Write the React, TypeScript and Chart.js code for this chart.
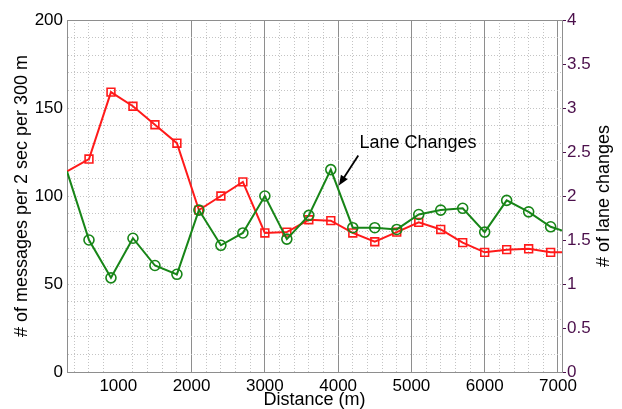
import React, { useEffect, useRef } from 'react';
import { Chart, registerables } from 'chart.js';

Chart.register(...registerables);

// ---- data ----
const distances = [300, 600, 900, 1200, 1500, 1800, 2100, 2400, 2700, 3000, 3300, 3600, 3900, 4200, 4500, 4800, 5100, 5400, 5700, 6000, 6300, 6600, 6900, 7200];
const messages = [114, 121, 159, 151, 140.5, 130, 92, 100, 108, 79, 79.5, 86.5, 86, 79, 74, 79.5, 85, 81, 73.5, 68, 69.5, 70, 68, 68];
const laneChanges = [2.28, 1.5, 1.07, 1.52, 1.21, 1.11, 1.84, 1.44, 1.58, 2.0, 1.51, 1.78, 2.3, 1.64, 1.64, 1.62, 1.79, 1.84, 1.86, 1.59, 1.95, 1.82, 1.65, 1.57];
const xTickLabels = [1000, 2000, 3000, 4000, 5000, 6000, 7000];
const xMajorLines = [2000, 3000, 4000, 5000, 6000, 7000];
const leftTickLabels = [0, 50, 100, 150, 200];
const rightTickLabels = [0, 0.5, 1, 1.5, 2, 2.5, 3, 3.5, 4];

const X_MIN = 300;
const X_MAX = 7055;
const X_GRID_STEP = 200;

const annotationText = 'Lane Changes';
const annotationTextPos = { x: 4290, y: 127 };
const arrowFrom = { x: 4275, y: 123 };
const arrowTo = { x: 4010, y: 106 };

const FONT = "'Liberation Sans', Arial, sans-serif";
const RED = '#ff1a1a';
const GREEN = '#178517';
const PURPLE = '#4b0f4b';
const DOT = '#c4c4c4';
const MAJOR = '#8e8e8e';

const overlayPlugin = {
  id: 'overlay',
  afterDatasetsDraw(chart: any) {
    const { ctx, scales } = chart;
    const xs = scales.x;
    const ys = scales.y;
    ctx.save();
    ctx.fillStyle = '#000';
    ctx.font = `18px ${FONT}`;
    ctx.textAlign = 'left';
    ctx.textBaseline = 'alphabetic';
    ctx.fillText(annotationText, xs.getPixelForValue(annotationTextPos.x), ys.getPixelForValue(annotationTextPos.y));
    const x1 = xs.getPixelForValue(arrowFrom.x), y1 = ys.getPixelForValue(arrowFrom.y);
    const x2 = xs.getPixelForValue(arrowTo.x), y2 = ys.getPixelForValue(arrowTo.y);
    const ang = Math.atan2(y2 - y1, x2 - x1);
    const hl = 10, hw = 4;
    ctx.strokeStyle = '#000';
    ctx.lineWidth = 1.8;
    ctx.beginPath();
    ctx.moveTo(x1, y1);
    ctx.lineTo(x2 - Math.cos(ang) * hl * 0.8, y2 - Math.sin(ang) * hl * 0.8);
    ctx.stroke();
    ctx.beginPath();
    ctx.moveTo(x2, y2);
    ctx.lineTo(x2 - Math.cos(ang) * hl + Math.sin(ang) * hw, y2 - Math.sin(ang) * hl - Math.cos(ang) * hw);
    ctx.lineTo(x2 - Math.cos(ang) * hl - Math.sin(ang) * hw, y2 - Math.sin(ang) * hl + Math.cos(ang) * hw);
    ctx.closePath();
    ctx.fillStyle = '#000';
    ctx.fill();
    ctx.restore();
  },
  afterDraw(chart: any) {
    const { ctx, chartArea } = chart;
    ctx.save();
    ctx.fillStyle = '#000';
    ctx.font = `18px ${FONT}`;
    ctx.textAlign = 'center';
    ctx.textBaseline = 'middle';
    ctx.translate(604, (chartArea.top + chartArea.bottom) / 2);
    ctx.rotate(-Math.PI / 2);
    ctx.fillText('# of lane changes', 0, 0);
    ctx.restore();
  },
};

function buildXTicks(s: any) {
  const t: any[] = [];
  for (let v = X_MIN + 100; v <= X_MAX; v += X_GRID_STEP) t.push({ value: v });
  s.ticks = t;
}

export default function App() {
  const ref = useRef<HTMLCanvasElement | null>(null);
  useEffect(() => {
    document.body.style.margin = '0';
    if (!ref.current) return;
    const chart = new Chart(ref.current, {
      type: 'line',
      data: {
        datasets: [
          {
            label: 'Lane changes',
            data: distances.map((d, i) => ({ x: d, y: laneChanges[i] })),
            yAxisID: 'y1',
            borderColor: GREEN,
            borderWidth: 2,
            pointStyle: 'circle',
            pointRadius: (c: any) => (c.dataIndex === 0 ? 0 : 5),
            pointBorderWidth: 1.6,
            pointBorderColor: GREEN,
            pointBackgroundColor: 'rgba(0,0,0,0)',
            tension: 0,
          },
          {
            label: 'Messages',
            data: distances.map((d, i) => ({ x: d, y: messages[i] })),
            yAxisID: 'y',
            borderColor: RED,
            borderWidth: 2,
            pointStyle: 'rect',
            pointRadius: (c: any) => (c.dataIndex === 0 ? 0 : 5.5),
            pointBorderWidth: 1.6,
            pointBorderColor: RED,
            pointBackgroundColor: 'rgba(0,0,0,0)',
            tension: 0,
          },
        ],
      },
      options: {
        animation: false,
        responsive: false,
        events: [],
        layout: { padding: { top: 20, left: 0, right: 0, bottom: 0 } },
        plugins: { legend: { display: false }, tooltip: { enabled: false } },
        scales: {
          x: {
            type: 'linear',
            position: 'bottom',
            min: X_MIN,
            max: X_MAX,
            afterFit: (s: any) => { s.height = 37; },
            afterBuildTicks: buildXTicks,
            ticks: {
              autoSkip: false,
              maxRotation: 0,
              padding: 4,
              color: '#000',
              font: { family: FONT, size: 17 },
              callback: (v: any) => (xTickLabels.includes(Number(v)) ? String(v) : ''),
            },
            grid: {
              drawTicks: false,
              lineWidth: 1,
              color: (c: any) => {
                const v = c.tick ? c.tick.value : null;
                if (v == null) return MAJOR;
                if (xMajorLines.includes(v)) return MAJOR;
                if (v === 1000) return 'rgba(0,0,0,0)';
                return DOT;
              },
            },
            border: {
              color: MAJOR,
              dash: (c: any) => {
                const v = c.tick ? c.tick.value : null;
                if (v == null) return [];
                return xMajorLines.includes(v) ? [] : [1, 2];
              },
            },
            title: {
              display: true,
              text: 'Distance (m)',
              color: '#000',
              font: { family: FONT, size: 18, lineHeight: 1.0 },
              padding: { top: 0, bottom: 0 },
            },
          },
          xTop: {
            type: 'linear',
            position: 'top',
            min: X_MIN,
            max: X_MAX,
            afterFit: (s: any) => { s.height = 0; },
            ticks: { display: false },
            grid: { drawOnChartArea: false, drawTicks: false },
            border: { color: MAJOR },
          },
          y: {
            type: 'linear',
            position: 'left',
            min: 0,
            max: 200,
            afterFit: (s: any) => { s.width = 67; },
            ticks: {
              stepSize: 10,
              autoSkip: false,
              padding: 4,
              color: '#000',
              font: { family: FONT, size: 17 },
              callback: (v: any) => (leftTickLabels.includes(Number(v)) ? String(v) : ''),
            },
            grid: {
              drawTicks: false,
              color: (c: any) => {
                const v = c.tick ? c.tick.value : null;
                if (v === 0 || v === 200) return 'rgba(0,0,0,0)';
                return DOT;
              },
            },
            border: { color: MAJOR, dash: (c: any) => (c.tick ? [1, 2] : []) },
            title: {
              display: true,
              text: '# of messages per 2 sec per 300 m',
              color: '#000',
              font: { family: FONT, size: 18 },
              padding: { top: 11, bottom: 0 },
            },
          },
          y1: {
            type: 'linear',
            position: 'right',
            min: 0,
            max: 4,
            afterFit: (s: any) => { s.width = 60; },
            ticks: {
              stepSize: 0.5,
              autoSkip: false,
              padding: 1,
              color: PURPLE,
              font: { family: FONT, size: 17 },
              callback: (v: any) => (rightTickLabels.includes(Number(v)) ? String(v) : ''),
            },
            grid: { drawOnChartArea: false, drawTicks: true, tickLength: 4, tickColor: PURPLE, tickWidth: 1 },
            border: { color: MAJOR },
          },
        },
      },
      plugins: [overlayPlugin],
    } as any);
    return () => chart.destroy();
  }, []);
  return (
    <div style={{ width: 622, height: 409, background: '#fff' }}>
      <canvas ref={ref} width={622} height={409} style={{ display: 'block' }} />
    </div>
  );
}
